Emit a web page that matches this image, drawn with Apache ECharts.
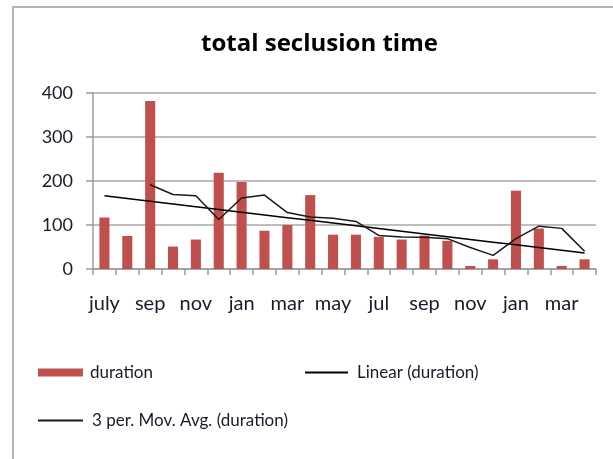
<!DOCTYPE html>
<html>
<head>
<meta charset="utf-8">
<script src="https://cdn.jsdelivr.net/npm/echarts@6/dist/echarts.min.js"></script>
<style>html,body{margin:0;padding:0;background:#fff;}#c{width:613px;height:459px;}</style>
</head>
<body>
<div id="c"></div>
<script>
var categories = ['july','aug','sep','oct','nov','dec','jan','feb','mar','apr','may','jun','jul','aug','sep','oct','nov','dec','jan','feb','mar','apr'];
var duration = [117,75,382,51,67,219,198,87,100,168,78,78,73,67,76,64,7,22,178,92,7,22];
var yTicks = [0,100,200,300,400];

// 3-period moving average (Excel style)
var movAvg = duration.map(function(v,i){
  if(i<2) return null;
  return (duration[i]+duration[i-1]+duration[i-2])/3;
});
// Linear least-squares trend
var n = duration.length, sx=0, sy=0, sxy=0, sxx=0;
for (var i=0;i<n;i++){var x=i+1;sx+=x;sy+=duration[i];sxy+=x*duration[i];sxx+=x*x;}
var slope=(n*sxy-sx*sy)/(n*sxx-sx*sx), icpt=(sy-slope*sx)/n;
var linear = duration.map(function(v,i){return icpt+slope*(i+1);});

var font = 'Lato, "Open Sans", sans-serif';
var chart = echarts.init(document.getElementById('c'));
chart.setOption({
  animation:false,
  backgroundColor:'#fff',
  title:{text:'total seclusion time',left:196,top:27,
    textStyle:{fontFamily:'"Open Sans", Lato, sans-serif',fontSize:24,fontWeight:'bold',color:'#000'}},
  graphic:[{type:'rect',shape:{x:13,y:7,width:640,height:500},
    style:{fill:'none',stroke:'#b4b4b4',lineWidth:2},silent:true}],
  grid:{left:93,right:17,top:93,bottom:190},
  xAxis:{type:'category',data:categories,boundaryGap:true,
    axisLine:{lineStyle:{color:'#9a9a9a',width:1.5}},
    axisTick:{show:true,interval:0,length:6,lineStyle:{color:'#9a9a9a',width:1.5}},
    axisLabel:{interval:1,margin:25,fontFamily:font,fontSize:20,color:'#1a1a2a'}},
  yAxis:{type:'value',min:yTicks[0],max:yTicks[yTicks.length-1],interval:100,
    axisLine:{show:true,lineStyle:{color:'#9a9a9a',width:1.5}},
    axisTick:{show:true,length:7,lineStyle:{color:'#9a9a9a',width:1.5}},
    splitLine:{lineStyle:{color:'#a8a8a8',width:1.5}},
    axisLabel:{margin:20,fontFamily:font,fontSize:18,color:'#1a1a2a'}},
  legend:[
    {left:33,top:359,itemWidth:45,itemHeight:8,itemGap:7,icon:'rect',
     data:['duration'],textStyle:{fontFamily:font,fontSize:17,color:'#1a1a2a',padding:[0,0,0,2]}},
    {left:300,top:359,itemWidth:43,itemHeight:2,itemGap:9,icon:'rect',
     data:['Linear (duration)'],textStyle:{fontFamily:font,fontSize:17,color:'#1a1a2a',padding:[0,0,0,4]}},
    {left:33,top:407,itemWidth:45,itemHeight:2,itemGap:9,icon:'rect',
     data:['3 per. Mov. Avg. (duration)'],textStyle:{fontFamily:font,fontSize:17,color:'#1a1a2a',padding:[0,0,0,4]}}
  ],
  series:[
    {name:'duration',type:'bar',data:duration,barWidth:'44%',itemStyle:{color:'#c0504d'}},
    {name:'Linear (duration)',type:'line',data:linear,showSymbol:false,symbol:'none',
     lineStyle:{color:'#000',width:1.5},itemStyle:{color:'#000'}},
    {name:'3 per. Mov. Avg. (duration)',type:'line',data:movAvg,showSymbol:false,symbol:'none',
     lineStyle:{color:'#1a1a1a',width:1.5},itemStyle:{color:'#1a1a1a'}}
  ]
});
</script>
</body>
</html>
